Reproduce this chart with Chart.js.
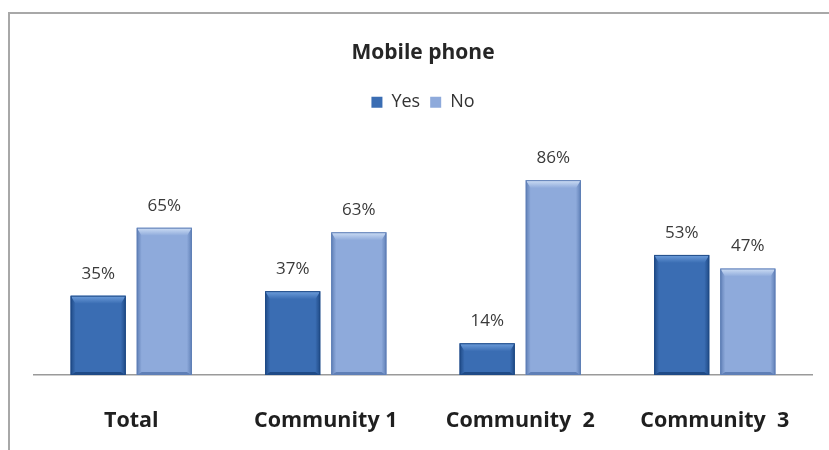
<!DOCTYPE html>
<html>
<head>
<meta charset="utf-8">
<script src="https://cdn.jsdelivr.net/npm/chart.js@4"></script>
<style>
  html, body { margin: 0; padding: 0; background: #fff; overflow: hidden; }
  #frame {
    position: absolute; left: 8px; top: 12px; width: 900px; height: 500px;
    border: 2px solid #a8a8a8; box-sizing: border-box;
  }
  #chart { position: absolute; left: 0; top: 0; }
</style>
</head>
<body>
<div id="frame"></div>
<canvas id="chart" width="829" height="450"></canvas>
<script>
// Chart values
const categories = ['Total', 'Community 1', 'Community  2', 'Community  3'];
const yesValues = [35, 37, 14, 53];
const noValues = [65, 63, 86, 47];
const seriesNames = ['Yes', 'No'];

const FONT = "'Open Sans', 'DejaVu Sans', sans-serif";

const palette = {
  Yes: { fill: '#3a6db3', edge: '#1f4a86', light: '#6f9fdc' },
  No: { fill: '#8eaadb', edge: '#5f7fb6', light: '#cfdff5' }
};

// Bevel look on each bar (drawn from the bar element geometry)
const bevelPlugin = {
  id: 'bevel',
  afterDatasetsDraw(chart) {
    const ctx = chart.ctx;
    chart.data.datasets.forEach((ds, di) => {
      const meta = chart.getDatasetMeta(di);
      const col = palette[ds.label];
      meta.data.forEach(bar => {
        const w = bar.width;
        const l = bar.x - w / 2, r = bar.x + w / 2;
        const t = bar.y, b = bar.base;
        const h = b - t;
        const bev = Math.min(8, h / 3);
        const side = 5;
        ctx.save();
        // sides
        let g = ctx.createLinearGradient(l, 0, l + side, 0);
        g.addColorStop(0, col.edge);
        g.addColorStop(1, col.fill);
        ctx.fillStyle = g;
        ctx.beginPath();
        ctx.moveTo(l, t); ctx.lineTo(l + side, t + bev); ctx.lineTo(l + side, b - 3); ctx.lineTo(l, b);
        ctx.closePath(); ctx.fill();
        g = ctx.createLinearGradient(r, 0, r - side, 0);
        g.addColorStop(0, col.edge);
        g.addColorStop(1, col.fill);
        ctx.fillStyle = g;
        ctx.beginPath();
        ctx.moveTo(r, t); ctx.lineTo(r - side, t + bev); ctx.lineTo(r - side, b - 3); ctx.lineTo(r, b);
        ctx.closePath(); ctx.fill();
        // top bevel
        g = ctx.createLinearGradient(0, t, 0, t + bev);
        g.addColorStop(0, col.light);
        g.addColorStop(1, col.fill);
        ctx.fillStyle = g;
        ctx.beginPath();
        ctx.moveTo(l, t); ctx.lineTo(r, t); ctx.lineTo(r - side, t + bev); ctx.lineTo(l + side, t + bev);
        ctx.closePath(); ctx.fill();
        // bottom strip
        ctx.fillStyle = col.edge;
        ctx.beginPath();
        ctx.moveTo(l, b); ctx.lineTo(l + side, b - 3); ctx.lineTo(r - side, b - 3); ctx.lineTo(r, b);
        ctx.closePath(); ctx.fill();
        // outline
        ctx.strokeStyle = col.edge;
        ctx.lineWidth = 1;
        ctx.strokeRect(l + 0.5, t + 0.5, w - 1, h - 1);
        ctx.restore();
      });
    });
  }
};

// Percentage labels above bars
const valueLabels = {
  id: 'valueLabels',
  afterDatasetsDraw(chart) {
    const ctx = chart.ctx;
    ctx.save();
    ctx.font = '17px ' + FONT;
    ctx.fillStyle = '#3a3a3a';
    ctx.textAlign = 'center';
    ctx.textBaseline = 'middle';
    chart.data.datasets.forEach((ds, di) => {
      chart.getDatasetMeta(di).data.forEach((bar, i) => {
        ctx.fillText(ds.data[i] + '%', bar.x, bar.y - 22);
      });
    });
    ctx.restore();
  }
};

new Chart(document.getElementById('chart'), {
  type: 'bar',
  data: {
    labels: categories,
    datasets: [
      {
        label: seriesNames[0],
        data: yesValues,
        backgroundColor: palette.Yes.fill,
        borderColor: palette.Yes.edge,
        borderWidth: 0
      },
      {
        label: seriesNames[1],
        data: noValues,
        backgroundColor: palette.No.fill,
        borderColor: palette.No.edge,
        borderWidth: 0
      }
    ]
  },
  options: {
    responsive: false,
    animation: false,
    devicePixelRatio: 1,
    categoryPercentage: 0.68,
    barPercentage: 0.833,
    layout: { padding: { left: 34, right: 17, top: 0, bottom: 0 } },
    plugins: {
      title: {
        display: true,
        text: 'Mobile phone',
        color: '#262626',
        font: { family: FONT, size: 21, weight: 'bold' },
        padding: { top: 40, bottom: 18 }
      },
      legend: {
        display: true,
        position: 'top',
        labels: {
          color: '#333',
          boxWidth: 11,
          boxHeight: 11,
          padding: 10,
          font: { family: FONT, size: 18 }
        }
      },
      tooltip: { enabled: false }
    },
    scales: {
      x: {
        grid: { display: false, drawTicks: false },
        border: { display: true, color: '#9a9a9a', width: 1.5 },
        ticks: {
          color: '#1f1f1f',
          padding: 33,
          font: { family: FONT, size: 21.5, weight: 'bold' }
        },
        afterFit(scale) { scale.height = 75; }
      },
      y: {
        display: false,
        min: 0,
        max: 112,
        beginAtZero: true
      }
    }
  },
  plugins: [bevelPlugin, valueLabels]
});
</script>
</body>
</html>
